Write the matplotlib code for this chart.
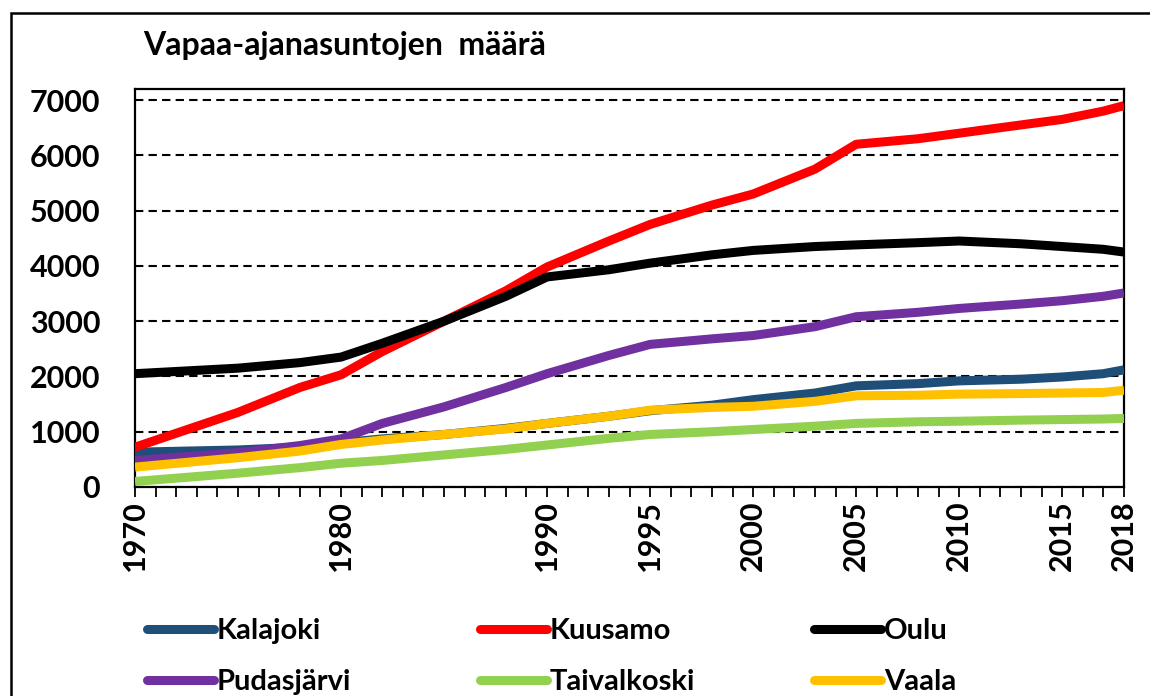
import matplotlib
matplotlib.use("Agg")
import matplotlib.pyplot as plt
from matplotlib.patches import Rectangle

# ---- data ----
years = [1970, 1975, 1978, 1980, 1982, 1985, 1988, 1990, 1993, 1995,
         1998, 2000, 2003, 2005, 2008, 2010, 2013, 2015, 2017, 2018]
kalajoki    = [630, 670, 720, 800, 870, 950, 1060, 1150, 1280, 1380,
               1480, 1580, 1700, 1830, 1870, 1920, 1950, 1990, 2050, 2120]
kuusamo     = [720, 1350, 1800, 2030, 2450, 3000, 3550, 3980, 4450, 4750,
               5100, 5300, 5750, 6200, 6300, 6400, 6550, 6650, 6800, 6900]
oulu        = [2050, 2150, 2250, 2350, 2600, 3000, 3450, 3800, 3930, 4050,
               4200, 4280, 4350, 4380, 4420, 4450, 4400, 4350, 4300, 4250]
pudasjarvi  = [480, 620, 750, 870, 1150, 1450, 1800, 2050, 2380, 2580,
               2680, 2740, 2900, 3080, 3160, 3230, 3310, 3370, 3450, 3510]
taivalkoski = [100, 250, 350, 430, 480, 580, 680, 760, 880, 950,
               1000, 1040, 1100, 1150, 1180, 1190, 1210, 1220, 1230, 1240]
vaala       = [360, 530, 650, 770, 850, 950, 1050, 1150, 1280, 1390,
               1440, 1460, 1550, 1650, 1660, 1680, 1690, 1700, 1710, 1750]

series_names = ["Kalajoki", "Kuusamo", "Oulu", "Pudasjärvi", "Taivalkoski", "Vaala"]
series_vals = [kalajoki, kuusamo, oulu, pudasjarvi, taivalkoski, vaala]
colors = ["#1F4E79", "#FF0000", "#000000", "#7030A0", "#92D050", "#FFC000"]

xtick_labels = [1970, 1980, 1990, 1995, 2000, 2005, 2010, 2015, 2018]
yticks = [0, 1000, 2000, 3000, 4000, 5000, 6000, 7000]
title = "Vapaa-ajanasuntojen  määrä"

# ---- figure ----
W, H = 1150, 696
fig = plt.figure(figsize=(W / 100, H / 100), dpi=100)
fam = ["Lato", "DejaVu Sans"]

L, R, T, B = 135, 1124, 89, 487
ax = fig.add_axes([L / W, 1 - B / H, (R - L) / W, (B - T) / H])

lines = []
for name, vals, c in zip(series_names, series_vals, colors):
    ln, = ax.plot(years, vals, color=c, lw=6.5, label=name,
                  solid_joinstyle="round", solid_capstyle="butt", zorder=3)
    lines.append(ln)

ax.set_xlim(1970, 2018)
ax.set_ylim(0, 7200)

ax.set_yticks(yticks)
ax.set_yticklabels([str(v) for v in yticks], family=fam, weight="bold", fontsize=22)
ax.tick_params(axis="y", length=0, pad=25)

all_years = list(range(1970, 2019))
ax.set_xticks(all_years)
ax.set_xticklabels([str(y) if y in xtick_labels else "" for y in all_years],
                   rotation=90, family=fam, weight="bold", fontsize=22)
ax.tick_params(axis="x", direction="out", length=7.5, width=1.3, pad=2)

ax.yaxis.grid(True, color="black", linestyle=(0, (4, 2.5)), lw=1.5)
ax.set_axisbelow(True)
for sp in ax.spines.values():
    sp.set_linewidth(1.6)
    sp.set_color("black")

fig.text(143 / W, 1 - 46 / H, title, family=fam, weight="bold", fontsize=23,
         ha="left", va="center")

# legends: three columns of two entries
cols_x = [147, 480, 814]
for i, x in enumerate(cols_x):
    hs = [lines[i], lines[i + 3]]
    lg = fig.legend(hs, [h.get_label() for h in hs], loc="upper left",
                    bbox_to_anchor=(x / W, 1 - 618 / H), frameon=False,
                    prop={"family": fam, "weight": "bold", "size": 21},
                    handlelength=2.3, handletextpad=0.1, labelspacing=0.87,
                    borderpad=0, borderaxespad=0)
    for lh in lg.get_lines():
        lh.set_linewidth(6.5)
        lh.set_solid_capstyle("round")

# outer chart frame (clipped at right/bottom like the reference)
fig.patches.append(Rectangle((11 / W, -0.1), 1.2, 1 - 13 / H + 0.1,
                             transform=fig.transFigure, fill=False,
                             edgecolor="black", lw=1.8))

fig.savefig("out.png", dpi=100)
